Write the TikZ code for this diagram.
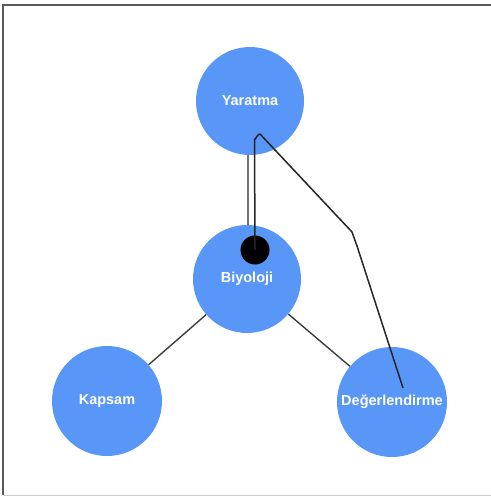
\documentclass[tikz,border=0pt]{standalone}
\usepackage{fontspec}
\setmainfont{Liberation Sans}
\begin{document}
\begin{tikzpicture}[x=1pt,y=-1pt,
  bubble/.style={circle,fill=bubblefill,draw=none,inner sep=0pt,minimum size=110pt,
    text=white,font=\fontsize{14.5}{16}\selectfont\bfseries},
  link/.style={draw=linkgray,line width=1.4pt},
  dotmark/.style={circle,fill=black,inner sep=0pt,minimum size=29pt}]
\definecolor{bubblefill}{RGB}{88,150,247}
\definecolor{linkgray}{RGB}{60,60,60}
\definecolor{framegray}{RGB}{90,90,90}
\useasboundingbox (0,0) rectangle (490,497);
% frame
\draw[framegray,line width=1.6pt] (3,495) -- (3,5) -- (491,5);
\draw[black!20,line width=1pt] (3,495) -- (491,495);
% nodes
\node[bubble,minimum size=108pt] (yar) at (250,101) {\raisebox{-2pt}{Yaratma}};
\node[bubble,minimum size=108pt] (biy) at (247,279) {\raisebox{-1pt}{Biyoloji}};
\node[bubble] (kap) at (107,401) {\raisebox{-2pt}{Kapsam}};
\node[bubble] (deg) at (392,402) {\raisebox{-1pt}{Değerlendirme}};
\node[dotmark] (dot) at (255,250) {};
% connectors
\draw[link] (biy) -- (kap);
\draw[link] (biy) -- (deg);
\coordinate (ga) at ([xshift=-2pt]yar.south);
\coordinate (gb) at ([xshift=1pt]biy.north);
\draw[draw=black!55,line width=1.3pt] (ga) -- (gb);
\coordinate (c1) at (254.5,139);
\coordinate (c2) at (260,134);
\coordinate (c3) at (352,232);
\coordinate (c4) at (357,246);
\coordinate (c5) at (403,388);
\draw[draw=black!85,line width=1.5pt,line join=round]
  (dot.center) -- (c1) to[out=-90,in=180] (c2) -- (c3) -- (c4) -- (c5);
\end{tikzpicture}
\end{document}
